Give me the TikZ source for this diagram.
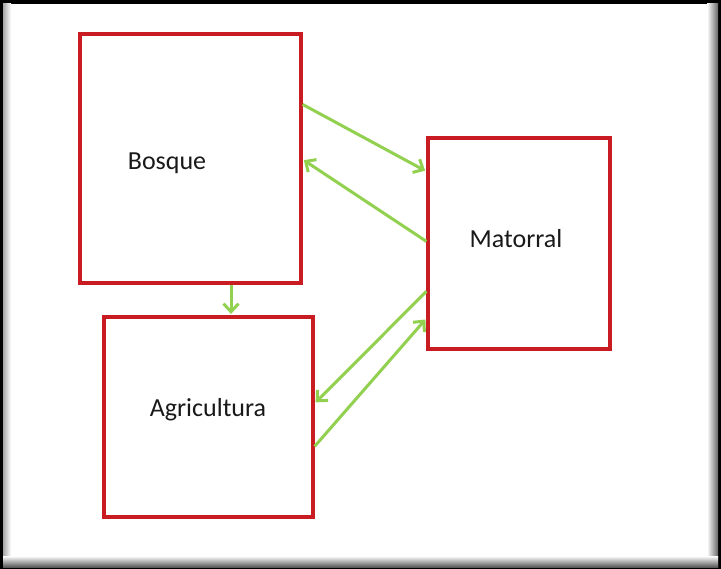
\documentclass[tikz,border=0pt]{standalone}
\usepackage{fontspec}
\setmainfont{Carlito}
\usetikzlibrary{arrows.meta,calc}
\definecolor{boxred}{RGB}{200,28,34}
\definecolor{flowgreen}{RGB}{146,208,80}
\tikzset{
  stagebox/.style={draw=boxred, line width=3.2pt, fill=white, inner sep=0pt},
  stagetext/.style={font=\fontsize{26}{30}\selectfont, text=black!90, inner sep=0pt},
  flow/.style={draw=flowgreen, line width=3pt,
    -{Straight Barb[length=8pt,width=15pt,line width=3pt]}, shorten >=1.5pt}
}
\begin{document}
\begin{tikzpicture}[x=1pt,y=-1pt]
  % frame of the slide
  \fill[black] (0,0) rectangle (721,569);
  \fill[white] (3,4) rectangle (717,567);
  \shade[left color=gray!70, right color=white] (3,4) rectangle (11,567);
  \shade[left color=white, right color=gray!80!black] (707,4) rectangle (718,567);
  \shade[top color=white, bottom color=gray!70!black] (3,556) rectangle (718,567);
  \useasboundingbox (0,0) rectangle (721,569);

  % land-cover boxes
  \node[stagebox, minimum width=221pt, minimum height=249pt] (bosque) at (190.5,158.5) {};
  \node[stagebox, minimum width=182pt, minimum height=211pt] (matorral) at (519,243.5) {};
  \node[stagebox, minimum width=209pt, minimum height=200pt] (agri) at (208.5,417) {};

  \node[stagetext] (tbosque) at (167,163) {Bosque};
  \node[stagetext] (tmatorral) at (516,239) {Matorral};
  \node[stagetext] (tagri) at (208,410) {Agricultura};

  % transitions
  \draw[flow] ($(bosque.north east)+(0,72)$) -- ($(matorral.north west)+(0,35)$);
  \draw[flow] ($(matorral.north west)+(0,105)$) -- ($(bosque.north east)+(0,127)$);
  \draw[flow] ($(matorral.north west)+(0,155)$) -- ($(agri.north east)+(0,88)$);
  \draw[flow] ($(agri.north east)+(0,131)$) -- ($(matorral.north west)+(0,182)$);
  \draw[flow] ($(bosque.south)+(40.5,0)$) -- ($(agri.north)+(22.5,0)$);
\end{tikzpicture}
\end{document}
